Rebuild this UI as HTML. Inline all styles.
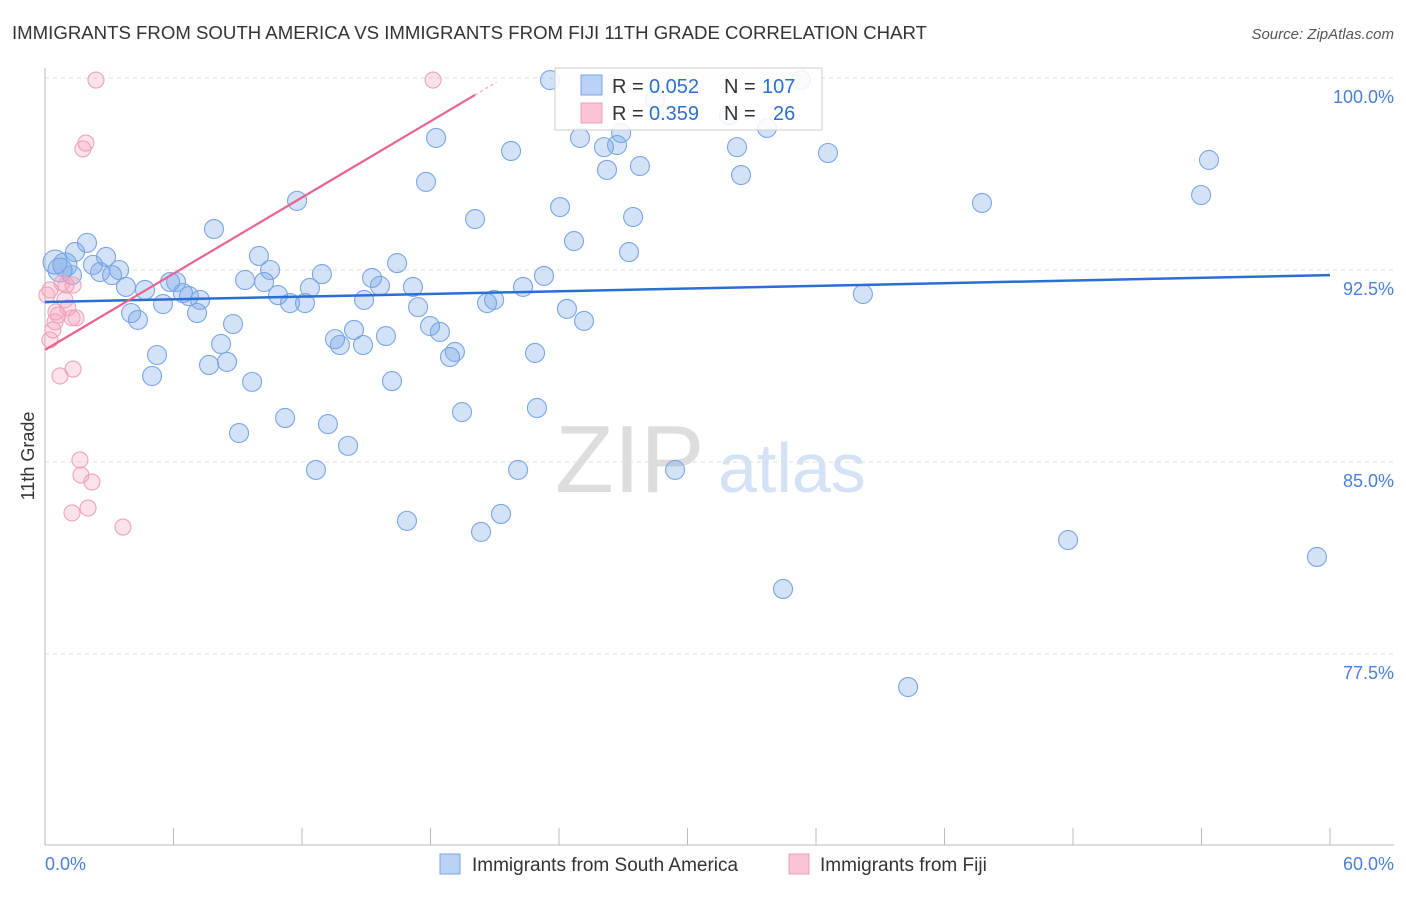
<!DOCTYPE html>
<html><head><meta charset="utf-8"><style>
body{margin:0;background:#fff;font-family:"Liberation Sans",sans-serif}
svg text{font-family:"Liberation Sans",sans-serif}
</style></head><body>
<svg id="chart" width="1406" height="892" xmlns="http://www.w3.org/2000/svg">
<text x="12" y="39" font-size="18" fill="#333" textLength="915" lengthAdjust="spacingAndGlyphs">IMMIGRANTS FROM SOUTH AMERICA VS IMMIGRANTS FROM FIJI 11TH GRADE CORRELATION CHART</text>
<text x="1394" y="39" font-size="15" fill="#555" text-anchor="end" font-style="italic">Source: ZipAtlas.com</text>
<text transform="translate(34,456) rotate(-90)" font-size="18" fill="#333" text-anchor="middle">11th Grade</text>
<text x="555" y="492" font-size="96" fill="#ddd" font-family="Liberation Serif">ZIP</text>
<text x="718" y="492" font-size="70" fill="#d4e2f5">atlas</text>
<g id="grid"></g><g id="axes"></g><g id="pts"></g><g id="lines"></g>
<g>
<rect x="555" y="68" width="267" height="62" fill="#fff" fill-opacity="0.85" stroke="#ccc"/>
<rect x="581" y="75" width="21" height="20" fill="#b9d2f5" stroke="#7aa5e5"/>
<rect x="581" y="103" width="21" height="20" fill="#f9c5d5" stroke="#eea0b8"/>
<text x="612" y="93" font-size="20" fill="#333">R =</text>
<text x="649" y="93" font-size="20" fill="#2b6fd6">0.052</text>
<text x="724" y="93" font-size="20" fill="#333">N =</text>
<text x="762" y="93" font-size="20" fill="#2b6fd6">107</text>
<text x="612" y="120" font-size="20" fill="#333">R =</text>
<text x="649" y="120" font-size="20" fill="#2b6fd6">0.359</text>
<text x="724" y="120" font-size="20" fill="#333">N =</text>
<text x="773" y="120" font-size="20" fill="#2b6fd6">26</text>
</g>
<g>
<rect x="440" y="854" width="20" height="20" fill="#b9d2f5" stroke="#7aa5e5"/>
<text x="472" y="871" font-size="19" fill="#333">Immigrants from South America</text>
<rect x="789" y="854" width="20" height="20" fill="#f9c5d5" stroke="#eea0b8"/>
<text x="820" y="871" font-size="19" fill="#333">Immigrants from Fiji</text>
</g>
</svg>
<script>
const blueX=[0.47,0.70,0.93,1.40,1.26,1.96,2.24,2.57,2.85,3.13,3.46,3.78,4.02,4.34,4.67,5.00,5.23,5.51,5.84,6.12,6.44,6.72,7.10,7.24,7.66,7.89,8.22,8.50,8.78,9.06,9.34,9.67,9.99,10.23,10.51,10.88,11.21,11.44,11.77,12.14,12.37,12.65,12.93,13.21,13.54,13.77,14.15,14.43,14.85,14.90,15.27,15.64,15.92,16.20,16.44,16.90,17.18,17.42,17.79,17.98,18.26,18.44,18.91,19.14,19.47,20.08,20.36,20.64,20.97,21.29,21.76,22.09,22.32,22.88,22.97,23.30,23.58,24.05,24.37,24.70,24.98,25.17,26.10,26.24,26.71,26.90,27.27,27.46,27.78,28.48,29.42,31.94,32.31,32.50,33.71,34.46,35.30,36.56,38.19,40.30,43.75,47.77,53.98,54.35,59.39];
const blueY=[92.81,92.50,92.70,93.20,92.30,93.56,92.70,92.42,93.01,92.30,92.50,91.84,90.82,90.55,91.72,88.36,89.18,91.17,92.03,92.03,91.60,91.48,90.82,91.33,88.79,94.10,89.61,88.91,90.39,86.13,92.11,88.13,93.05,92.03,92.50,91.52,86.72,91.21,95.20,91.21,91.80,84.69,92.34,86.48,89.80,89.57,85.63,90.16,89.57,91.33,92.19,91.88,89.92,88.16,92.77,82.70,91.84,91.05,95.94,90.31,97.66,90.08,89.10,89.30,86.95,94.49,82.27,91.21,91.33,82.97,97.15,84.69,91.84,89.26,87.11,92.27,99.92,94.96,90.98,93.63,97.66,90.51,97.30,96.41,97.38,97.85,93.20,94.57,96.56,99.14,84.69,98.55,97.30,96.21,98.05,80.04,99.92,97.07,91.56,76.21,95.12,81.95,95.43,96.80,81.29];
const pinkX=[2.38,18.12,1.91,1.77,0.09,0.23,0.47,0.37,0.61,0.93,1.07,1.26,1.45,1.31,0.79,0.70,1.31,1.63,1.68,2.19,1.26,2.01,3.64,0.23,0.51,0.98];
const pinkY=[99.92,99.92,97.46,97.23,91.52,91.72,90.47,90.16,90.74,91.33,91.02,90.63,90.63,91.91,91.99,88.36,88.63,85.08,84.49,84.22,83.01,83.20,82.46,89.77,90.86,91.91];
const yTicks=[100,92.5,85,77.5];
const yTickLabels=["100.0%","92.5%","85.0%","77.5%"];
const blueTrend=[91.25,92.30];
const pinkTrend=[89.38,99.34];
const pinkTrendEnd=20.08;
const NS='http://www.w3.org/2000/svg';
const sx=v=>45+v/60*1285, sy=v=>78+(100-v)/7.5*192;
function mk(p,t,a){const e=document.createElementNS(NS,t);for(const k in a)e.setAttribute(k,a[k]);p.appendChild(e);return e;}
const grid=document.getElementById('grid'),axes=document.getElementById('axes'),pts=document.getElementById('pts'),lines=document.getElementById('lines');
yTicks.forEach((t,i)=>{
 const g=mk(grid,'line',{x1:45,x2:1394,y1:sy(t),y2:sy(t),stroke:'#ddd','stroke-dasharray':'4,4'});
 
 
 const l=mk(axes,'text',{x:1394,y:sy(t)+25,'font-size':18,fill:'#4a7fd8','text-anchor':'end'});l.textContent=yTickLabels[i];
 
 
});
const ya=mk(axes,'line',{x1:45,x2:45,y1:68,y2:845,stroke:'#bbb'});


for(let i=0;i<=10;i++){const t=mk(axes,'line',{x1:sx(i*6),x2:sx(i*6),y1:828,y2:845,stroke:'#bbb'});
 
 }
const xa=mk(axes,'line',{x1:45,x2:1394,y1:845,y2:845,stroke:'#bbb'});


const x0=mk(axes,'text',{x:45,y:870,'font-size':18,fill:'#4a7fd8'});x0.textContent='0.0%';


const x1=mk(axes,'text',{x:1394,y:870,'font-size':18,fill:'#4a7fd8','text-anchor':'end'});x1.textContent='60.0%';


blueX.forEach((v,i)=>{const c=mk(pts,'circle',{cx:sx(v),cy:sy(blueY[i]),r:i<3?12:9.5,fill:'rgba(110,160,230,0.3)',stroke:'#7aa6e6','stroke-width':1.1});
 
 });
pinkX.forEach((v,i)=>{const c=mk(pts,'circle',{cx:sx(v),cy:sy(pinkY[i]),r:8,fill:'rgba(245,160,190,0.3)',stroke:'#f0a3bb','stroke-width':1.1});
 
 });
const bl=mk(lines,'line',{x1:sx(0),y1:sy(blueTrend[0]),x2:sx(60),y2:sy(blueTrend[1]),stroke:'#2b6fd6','stroke-width':2.5});


const pl=mk(lines,'line',{x1:sx(0),y1:sy(pinkTrend[0]),x2:sx(pinkTrendEnd),y2:sy(pinkTrend[1]),stroke:'#e8638f','stroke-width':2.2});


const slope=(pinkTrend[1]-pinkTrend[0])/pinkTrendEnd;
const pd=mk(lines,'line',{x1:sx(pinkTrendEnd),y1:sy(pinkTrend[1]),x2:sx(pinkTrendEnd+1),y2:sy(pinkTrend[1]+slope),stroke:'#f3b5c8','stroke-width':1.5,'stroke-dasharray':'3,3'});


</script>
</body></html>
